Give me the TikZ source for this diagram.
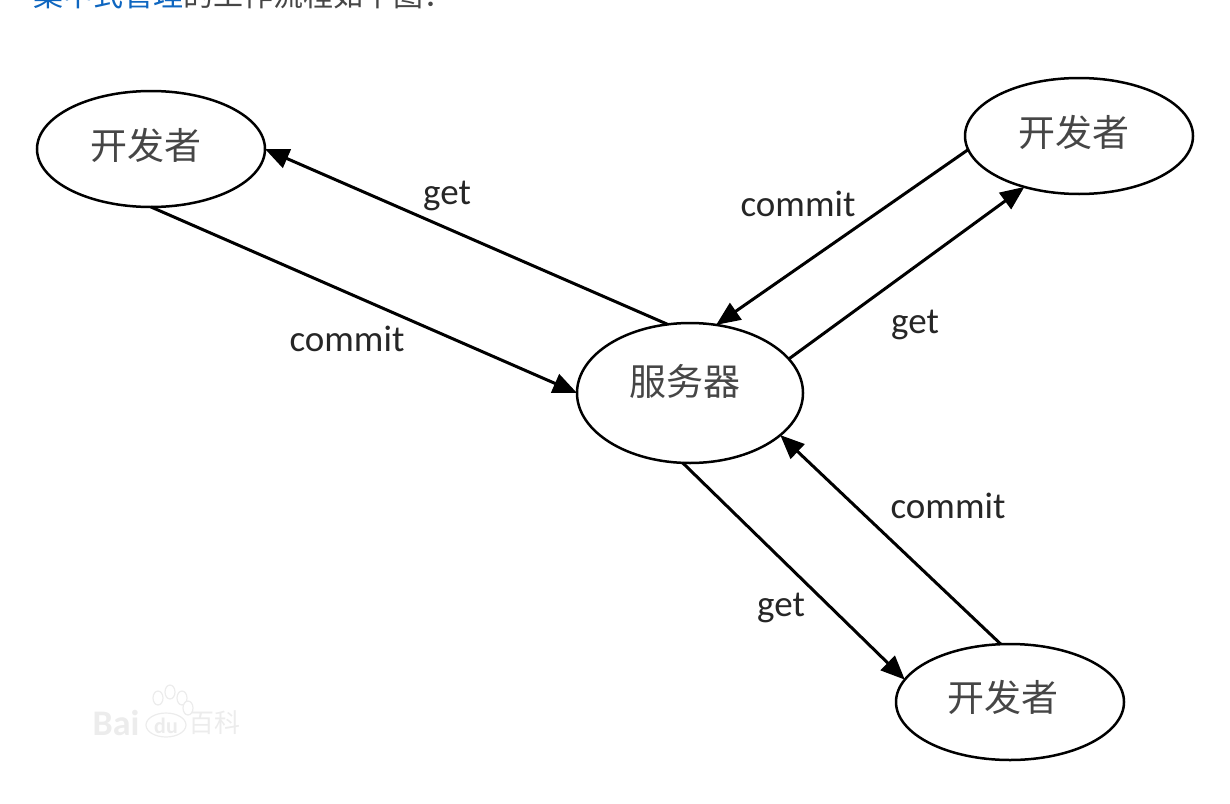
\documentclass[tikz,border=0pt]{standalone}
\usepackage{fontspec}
\setmainfont{Carlito}
\newfontfamily\cjk{Noto Sans CJK SC}
\usetikzlibrary{arrows.meta,positioning}
\usetikzlibrary{shapes.geometric}

\definecolor{linkblue}{RGB}{14,102,192}
\definecolor{bodygray}{RGB}{70,70,70}
\definecolor{markgray}{RGB}{236,236,236}

\newcommand{\peertext}[2][10pt]{\raisebox{#1}{#2\hspace{10pt}}}

\tikzset{
	peer/.style={draw=black,ellipse,line width=2.5pt,fill=white,inner sep=0pt,outer sep=0pt,
		minimum width=228pt,minimum height=116pt,text=bodygray,font=\cjk\fontsize{37}{37}\selectfont},
	server/.style={peer,minimum width=226pt,minimum height=140pt},
	flow/.style={draw=black,line width=3pt,-{Triangle[length=24pt,width=20pt]}},
	lbl/.style={text=black!85,font=\fontsize{37}{37}\selectfont},
	heading/.style={anchor=base west,inner sep=0pt,font=\cjk\fontsize{30}{30}\selectfont},
	wmark/.style={text=markgray,font=\bfseries\fontsize{36}{36}\selectfont,inner sep=0pt},
	wpad/.style={draw=markgray,line width=1.2pt,fill=white}
}

\begin{document}
\begin{tikzpicture}[x=1pt,y=-1pt]
	\useasboundingbox (0,0) rectangle (1230,803);
	\clip (0,0) rectangle (1230,803);

	\node[heading,text=linkblue] (title) at (33,6) {集中式管理};
	\node[heading,text=bodygray,right=0pt of title.base east,anchor=base west] (rest) {的工作流程如下图：};

	% watermark
	\node[wmark] (bai) at (116,723) {Bai};
	\node[wmark,font=\cjk\fontsize{26}{26}\selectfont] (baike) at (214,723) {百科};
	\foreach \x/\y in {158/698,170/692,182/698,188/708}
		\draw[wpad] (\x,\y) ellipse (5 and 7);
	\draw[wpad] (166,725) ellipse (20 and 12);
	\node[wmark,font=\bfseries\fontsize{22}{22}\selectfont] (du) at (166,726) {du};

	\node[peer] (dev1) at (151,149) {\peertext{开发者}};
	\node[peer] (dev2) at (1079,136) {\peertext{开发者}};
	\node[peer] (dev3) at (1010,702) {\peertext[12pt]{开发者\hspace{4pt}}};
	\node[server] (srv) at (690,393) {\peertext[26pt]{服务器}};

	\draw[flow] (srv.108.4) -- (dev1.east);
	\draw[flow] (dev1.south) -- (srv.west);
	\draw[flow] (dev2.187.6) -- (srv.69.4);
	\draw[flow] (srv.19.6) -- (dev2.223.9);
	\draw[flow] (dev3.99.8) -- (srv.-25.5);
	\draw[flow] (srv.-96.4) -- (dev3.168.9);

	\node[lbl] (get1) at (447,196) {get};
	\node[lbl] (commit1) at (347,339) {commit};
	\node[lbl] (commit2) at (798,204) {commit};
	\node[lbl] (get2) at (915,325) {get};
	\node[lbl] (commit3) at (948,506) {commit};
	\node[lbl] (get3) at (781,608) {get};
\end{tikzpicture}
\end{document}
